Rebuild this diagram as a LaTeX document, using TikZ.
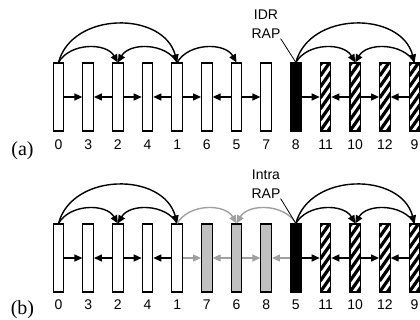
\documentclass[tikz,border=0pt]{standalone}
\usepackage{fontspec}
\setmainfont{Liberation Serif}
\newfontfamily\arial{Liberation Sans}
\usetikzlibrary{arrows.meta}
\definecolor{gline}{HTML}{A0A0A0}
\definecolor{gfill}{HTML}{C0C0C0}

\begin{document}
\begin{tikzpicture}[x=1pt,y=-1pt,
  bar/.style={draw, line width=1.1pt, minimum width=10.5pt, minimum height=68pt,
    inner sep=0pt, fill=white},
  keybar/.style={bar, fill=black},
  greybar/.style={bar, fill=gfill},
  hatchbar/.style={bar, path picture={
      \foreach \k in {-2,...,7}
        \draw[line width=3.2pt]
          ([yshift=\k*11pt]path picture bounding box.south west) -- ++(55:30pt);}},
  tip/.style={-{Triangle[length=8pt,width=7pt]}},
  harr/.style={tip, line width=1.3pt},
  arc/.style={tip, line width=1.4pt},
  grey/.style={draw=gline, color=gline},
  num/.style={font=\arial\fontsize{14}{14}\selectfont, inner sep=0pt},
  tag/.style={font=\fontsize{20}{20}\selectfont, inner sep=0pt},
  note/.style={font=\arial\fontsize{14}{19}\selectfont, align=center, inner sep=0pt},
  lead/.style={line width=0.8pt}
]
\useasboundingbox (0,0) rectangle (420,320);

% ---------- row (a) ----------
\foreach \lab [count=\i from 0] in {0,3,2,4,1,6,5,7} {
  \node[bar] (a\i) at (58.5+29.67*\i,97) {};
  \node[num] (la\i) at (58.5+29.67*\i,145) {\lab};
}
\node[keybar] (a8) at (58.5+29.67*8,97) {};
\node[num] (la8) at (58.5+29.67*8,145) {8};
\foreach \lab [count=\i from 9] in {11,10,12,9} {
  \node[hatchbar] (a\i) at (58.5+29.67*\i,97) {};
  \node[num] (la\i) at (58.5+29.67*\i,145) {\lab};
}
\node[tag] (ta) at (22.5,150.5) {(a)};

\foreach \s/\t in {0/1,2/1,2/3,4/3,4/5,6/5,6/7,8/9,10/9,10/11,12/11}
  \draw[harr] (a\s) -- (a\t);

\draw[arc] (a0.north) to[out=60,in=120] (a2.north);
\draw[arc] (a0.north) to[out=75,in=105,looseness=1.15] (a4.north);
\draw[arc] (a4.north) to[out=120,in=60] (a2.north);
\draw[arc] (a4.north) to[out=60,in=120] (a6.north);
\draw[arc] (a8.north) to[out=60,in=120] (a10.north);
\draw[arc] (a8.north) to[out=75,in=105,looseness=1.15] (a12.north);
\draw[arc] (a12.north) to[out=120,in=60] (a10.north);

\node[note] (idr) at (266,24) {IDR\\RAP};
\draw[lead] (idr.south east) -- (a8.north);

% ---------- row (b) ----------
\foreach \lab [count=\i from 0] in {0,3,2,4,1} {
  \node[bar] (b\i) at (58.5+29.67*\i,258) {};
  \node[num] (lb\i) at (58.5+29.67*\i,305) {\lab};
}
\foreach \lab [count=\i from 5] in {7,6,8} {
  \node[greybar] (b\i) at (58.5+29.67*\i,258) {};
  \node[num] (lb\i) at (58.5+29.67*\i,305) {\lab};
}
\node[keybar] (b8) at (58.5+29.67*8,258) {};
\node[num] (lb8) at (58.5+29.67*8,305) {5};
\foreach \lab [count=\i from 9] in {11,10,12,9} {
  \node[hatchbar] (b\i) at (58.5+29.67*\i,258) {};
  \node[num] (lb\i) at (58.5+29.67*\i,305) {\lab};
}
\node[tag] (tb) at (22.5,309.5) {(b)};

\foreach \s/\t in {0/1,2/1,2/3,4/3,8/9,10/9,10/11,12/11}
  \draw[harr] (b\s) -- (b\t);
\foreach \s/\t in {4/5,6/5,6/7,8/7}
  \draw[harr, grey] (b\s) -- (b\t);

\draw[arc] (b0.north) to[out=60,in=120] (b2.north);
\draw[arc] (b0.north) to[out=75,in=105,looseness=1.15] (b4.north);
\draw[arc] (b4.north) to[out=120,in=60] (b2.north);
\draw[arc, grey] (b4.north) to[out=60,in=120] (b6.north);
\draw[arc, grey] (b8.north) to[out=120,in=60] (b6.north);
\draw[arc] (b8.north) to[out=60,in=120] (b10.north);
\draw[arc] (b8.north) to[out=75,in=105,looseness=1.15] (b12.north);
\draw[arc] (b12.north) to[out=120,in=60] (b10.north);

\node[note] (intra) at (266,184) {Intra\\RAP};
\draw[lead] (intra.south east) -- (b8.north);
\end{tikzpicture}
\end{document}
